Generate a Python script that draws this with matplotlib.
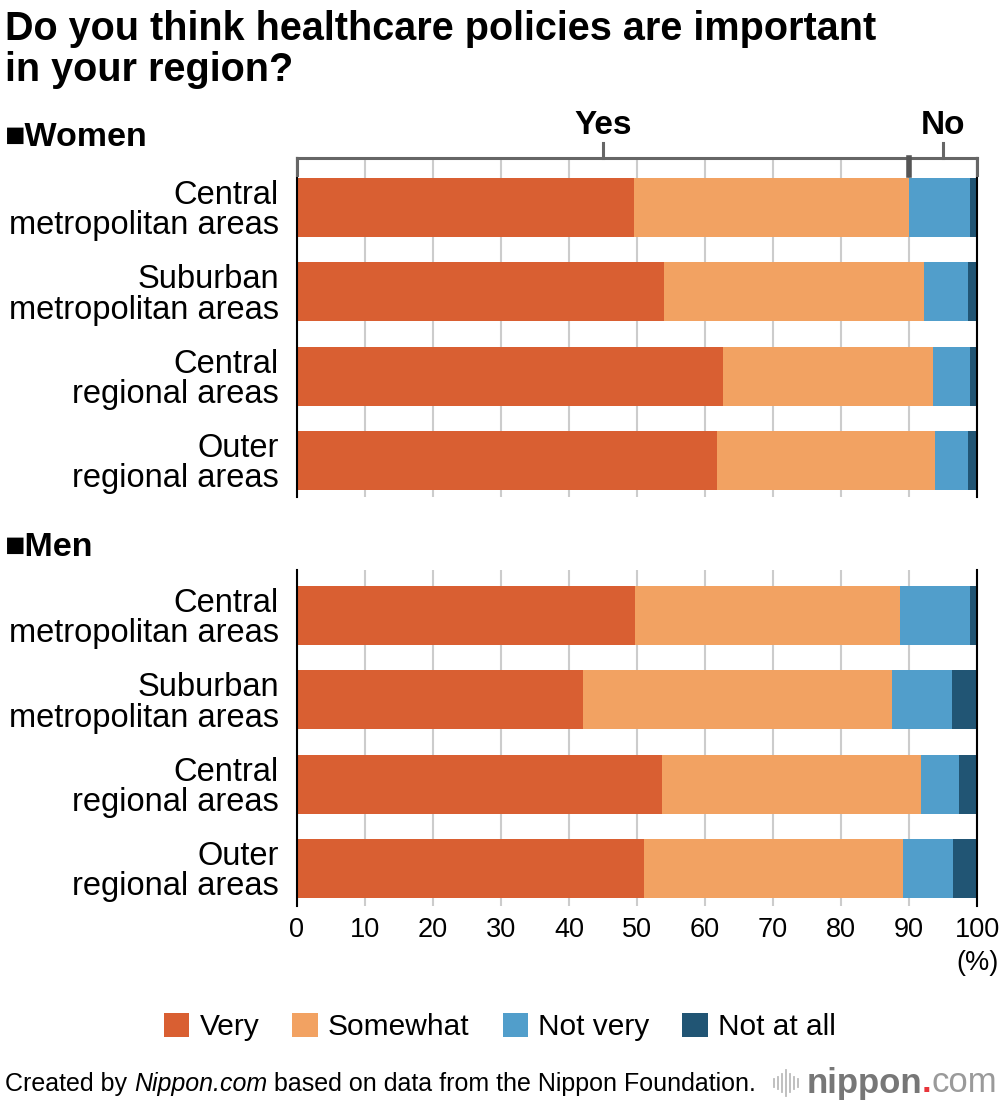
import matplotlib.pyplot as plt
from matplotlib.patches import Patch
from matplotlib.lines import Line2D
import numpy as np

plt.rcParams['font.family'] = ['Liberation Sans', 'DejaVu Sans']

categorias = ['Central\nmetropolitan areas', 'Suburban\nmetropolitan areas',
              'Central\nregional areas', 'Outer\nregional areas']
respostas = ['Very', 'Somewhat', 'Not very', 'Not at all']
cores = ['#D95F32', '#F2A262', '#519ECB', '#215574']

# valores (%)
women_very = [49.5, 53.9, 62.7, 61.8]
women_somewhat = [40.5, 38.3, 30.9, 32.0]
women_notvery = [9.0, 6.5, 5.4, 4.9]
women_notatall = [1.0, 1.3, 1.0, 1.3]

men_very = [49.7, 42.1, 53.7, 51.0]
men_somewhat = [39.0, 45.4, 38.0, 38.1]
men_notvery = [10.3, 8.8, 5.7, 7.3]
men_notatall = [1.0, 3.7, 2.6, 3.6]

ticks_x = [0, 10, 20, 30, 40, 50, 60, 70, 80, 90, 100]

W, H = 1000, 1106
fig = plt.figure(figsize=(W / 100, H / 100), dpi=100)


def painel(top_px, bot_px, ylim, series, mostrar_x):
    ax = fig.add_axes([297 / W, 1 - bot_px / H, 680 / W, (bot_px - top_px) / H])
    y = np.arange(len(categorias))
    esquerda = np.zeros(len(categorias))
    for vals, cor in zip(series, cores):
        ax.barh(y, vals, left=esquerda, height=0.7, color=cor, zorder=3)
        esquerda += np.array(vals)
    ax.set_xlim(0, 100)
    ax.set_ylim(*ylim)
    ax.set_yticks(y)
    ax.set_yticklabels(categorias, fontsize=23.5, linespacing=0.97)
    ax.tick_params(axis='y', length=0, pad=13)
    ax.set_xticks(ticks_x)
    ax.grid(axis='x', color='#cccccc', lw=1.5, zorder=0)
    for s in ['top', 'bottom']:
        ax.spines[s].set_visible(False)
    for s in ['left', 'right']:
        ax.spines[s].set_color('black')
        ax.spines[s].set_linewidth(1.5)
        ax.spines[s].set_zorder(5)
    if mostrar_x:
        ax.tick_params(axis='x', length=0, pad=8, labelsize=19.5)
    else:
        ax.tick_params(axis='x', length=0, labelbottom=False)
    return ax


ax1 = painel(158, 497, (3.433, -0.587),
             [women_very, women_somewhat, women_notvery, women_notatall], False)
ax2 = painel(570, 906, (3.445, -0.54),
             [men_very, men_somewhat, men_notvery, men_notatall], True)

# colchete Yes / No
tr = ax1.get_xaxis_transform()
h = 339
cinza = '#666666'
ax1.plot([0, 100], [1, 1], color=cinza, lw=2.2, transform=tr, clip_on=False, zorder=6)
ax1.plot([0, 0], [1, 1 - 17 / h], color=cinza, lw=2.2, transform=tr, clip_on=False, zorder=6)
ax1.plot([100, 100], [1, 1 - 17 / h], color=cinza, lw=2.2, transform=tr, clip_on=False, zorder=6)
ax1.plot([90, 90], [1, 1 - 17 / h], color='#555555', lw=4, transform=tr, clip_on=False, zorder=6)
ax1.plot([45, 45], [1, 1 + 15 / h], color=cinza, lw=2.2, transform=tr, clip_on=False, zorder=6)
ax1.plot([95, 95], [1, 1 + 15 / h], color=cinza, lw=2.2, transform=tr, clip_on=False, zorder=6)
ax1.text(45, 1 + 32 / h, 'Yes', transform=tr, ha='center', va='center',
         fontsize=24, fontweight='bold')
ax1.text(95, 1 + 32 / h, 'No', transform=tr, ha='center', va='center',
         fontsize=24, fontweight='bold')

ax2.text(100, -0.13, '(%)', transform=ax2.get_xaxis_transform(), ha='center',
         va='top', fontsize=19.5)

# titulo e rotulos de grupo
fig.text(5 / W, 1 - 10 / H, 'Do you think healthcare policies are important\nin your region?',
         ha='left', va='top', fontsize=28.5, fontweight='bold', linespacing=1.1)
fig.text(5 / W, 1 - 137 / H, '■Women', ha='left', va='center', fontsize=24.5, fontweight='bold')
fig.text(5 / W, 1 - 547 / H, '■Men', ha='left', va='center', fontsize=24.5, fontweight='bold')

# legenda
handles = [Patch(facecolor=c, edgecolor='none') for c in cores]
fig.legend(handles, respostas, loc='center', bbox_to_anchor=(0.5, 1 - 1027 / H),
           ncol=4, frameon=False, fontsize=21.5, handlelength=0.85, handleheight=0.85,
           handletextpad=0.35, columnspacing=1.1)

# rodape
inv = fig.transFigure.inverted()
fy = 1 - 1091 / H
t1 = fig.text(5 / W, fy, 'Created by ', ha='left', va='baseline', fontsize=18)
t2 = fig.text(0, fy, 'Nippon.com', fontsize=18, style='italic', ha='left', va='baseline')
t3 = fig.text(0, fy, ' based on data from the Nippon Foundation.', fontsize=18,
              ha='left', va='baseline')
fig.canvas.draw()
r = fig.canvas.get_renderer()
t2.set_x(inv.transform((t1.get_window_extent(r).x1, 0))[0])
fig.canvas.draw()
t3.set_x(inv.transform((t2.get_window_extent(r).x1, 0))[0])

# logo nippon.com
lx = 997 / W
ly = 1 - 1083 / H
tc = fig.text(lx, ly, 'com', ha='right', va='center', fontsize=25, color='#9a9a9a')
fig.canvas.draw()
xc = inv.transform((tc.get_window_extent(r).x0, 0))[0]
td = fig.text(xc, ly, '.', ha='right', va='center', fontsize=25, color='#e8353b',
              fontweight='bold')
fig.canvas.draw()
xd = inv.transform((td.get_window_extent(r).x0, 0))[0]
fig.text(xd, ly, 'nippon', ha='right', va='center', fontsize=25, color='#777777',
         fontweight='bold')
alturas = [8, 12, 18, 26, 18, 12, 8]
for i, a in enumerate(alturas):
    xx = (774 + i * 4) / W
    fig.add_artist(Line2D([xx, xx], [ly - a / 2 / H, ly + a / 2 / H], color='#bbbbbb', lw=1.3))

fig.savefig('out.png', dpi=100)
